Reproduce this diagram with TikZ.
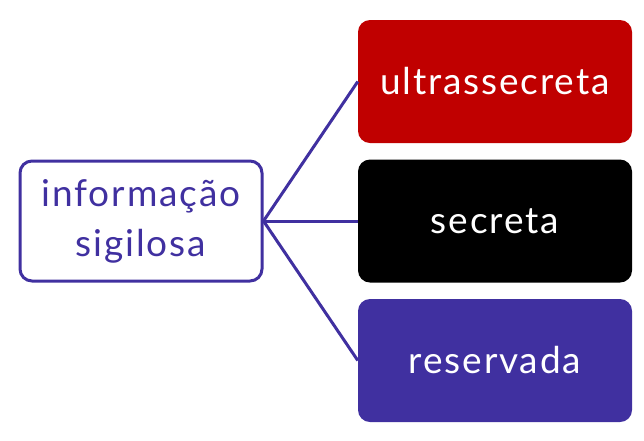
\documentclass[tikz,border=0pt]{standalone}
\usepackage{fontspec}
\setmainfont{Lato}[LetterSpace=5]
\usepackage{tikz}
\definecolor{roxo}{RGB}{64,48,160}
\definecolor{vermelho}{RGB}{192,0,0}

\begin{document}
\begin{tikzpicture}[x=1pt, y=-1pt,
	caixa/.style={rounded corners=12pt, minimum width=274pt, minimum height=123pt,
		text=white, font=\fontsize{37}{50}\selectfont},
	ligacao/.style={roxo, line width=3pt}]
	\useasboundingbox (0,0) rectangle (644,440);
	\node[draw=roxo, line width=3pt, rounded corners=12pt, minimum width=242pt,
		minimum height=120pt, text=roxo, align=center,
		font=\fontsize{37}{50}\selectfont] (sigilosa) at (141, 221)
		{informação\\sigilosa};
	\node[caixa, fill=vermelho] (ultra) at (495, 81.5) {ultrassecreta};
	\node[caixa, fill=black] (secreta) at (495, 221) {secreta};
	\node[caixa, fill=roxo] (reservada) at (495, 360.5) {reservada};
	% ligacoes
	\draw[ligacao] (sigilosa.east) -- (ultra.west);
	\draw[ligacao] (sigilosa.east) -- (secreta.west);
	\draw[ligacao] (sigilosa.east) -- (reservada.west);
\end{tikzpicture}
\end{document}
